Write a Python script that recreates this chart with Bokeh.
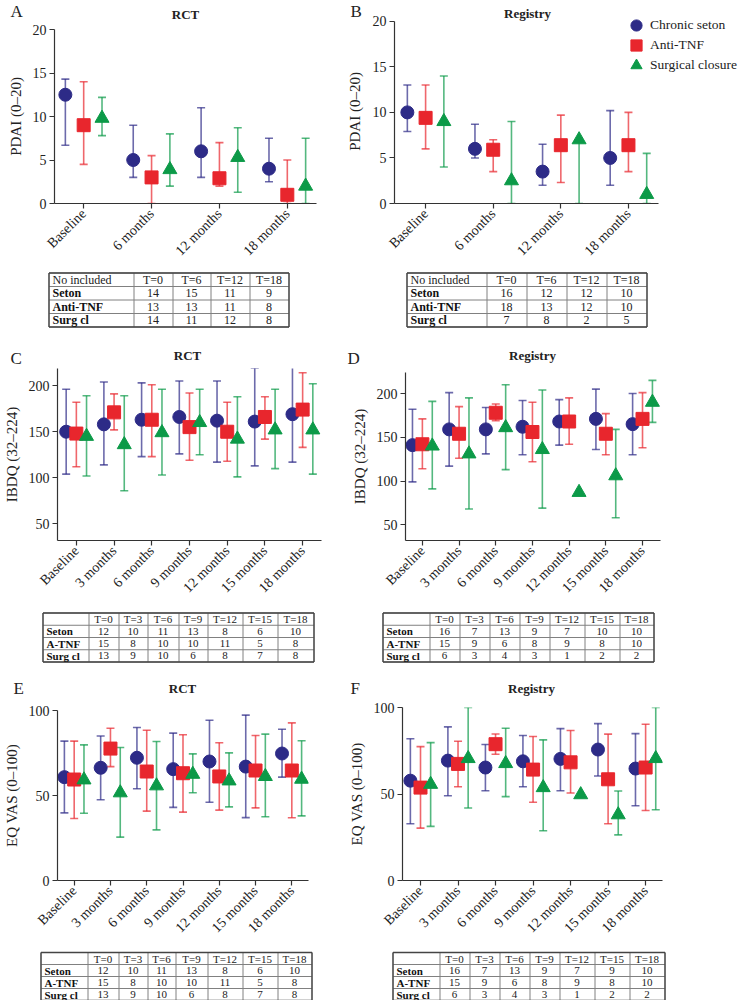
import math
from bokeh.plotting import figure
from bokeh.layouts import column, row
from bokeh.models import (Range1d, FixedTicker, Whisker, TeeHead, ColumnDataSource,
                          Legend, LegendItem, Label)
from bokeh.core.properties import value
from bokeh.embed import file_html
from bokeh.resources import INLINE

NaN = float("nan")

# ---------------- data ----------------
cats4 = ["Baseline", "6 months", "12 months", "18 months"]
cats7 = ["Baseline", "3 months", "6 months", "9 months", "12 months", "15 months", "18 months"]
series_names = ["Chronic seton", "Anti-TNF", "Surgical closure"]
panel_letters = ["A", "B", "C", "D", "E", "F"]
panel_titles = ["RCT", "Registry", "RCT", "Registry", "RCT", "Registry"]
ylabels = ["PDAI (0\u201320)", "IBDQ (32\u2013224)", "EQ VAS (0\u2013100)"]

# A: RCT, PDAI
A_seton = [12.5, 5.0, 6.0, 4.0]
A_seton_lo = [6.7, 3.0, 3.0, 2.5]
A_seton_hi = [14.3, 9.0, 11.0, 7.5]
A_anti = [9.0, 3.0, 2.9, 1.0]
A_anti_lo = [4.5, 0.0, 2.0, 0.0]
A_anti_hi = [14.0, 5.5, 7.0, 5.0]
A_surg = [9.8, 3.9, 5.3, 2.0]
A_surg_lo = [7.8, 2.0, 1.3, 0.0]
A_surg_hi = [12.2, 8.0, 8.7, 7.5]

# B: Registry, PDAI
B_seton = [10.0, 6.0, 3.5, 5.0]
B_seton_lo = [7.9, 5.0, 2.0, 2.0]
B_seton_hi = [13.0, 8.7, 6.5, 10.2]
B_anti = [9.4, 5.9, 6.4, 6.4]
B_anti_lo = [6.0, 3.5, 2.3, 3.5]
B_anti_hi = [13.0, 7.0, 9.7, 10.0]
B_surg = [9.0, 2.5, 7.0, 1.0]
B_surg_lo = [4.0, 0.0, 0.0, 0.0]
B_surg_hi = [14.0, 9.0, 7.0, 5.5]

# C: RCT, IBDQ
C_seton = [150, 158, 163, 166, 162, 161, 169]
C_seton_lo = [104, 114, 123, 126, 117, 113, 117]
C_seton_hi = [196, 204, 203, 205, 205, 219, 221]
C_anti = [148, 171, 163, 155, 150, 166, 174]
C_anti_lo = [112, 152, 123, 119, 118, 142, 133]
C_anti_hi = [182, 191, 201, 192, 182, 188, 214]
C_surg = [145, 136, 149, 160, 142, 152, 152]
C_surg_lo = [102, 86, 103, 125, 101, 110, 104]
C_surg_hi = [189, 189, 196, 196, 188, 196, 202]

# D: Registry, IBDQ
D_seton = [141, 159, 159, 162, 168, 171, 165]
D_seton_lo = [99, 117, 131, 130, 141, 136, 130]
D_seton_hi = [182, 201, 184, 192, 193, 205, 200]
D_anti = [142, 154, 178, 156, 168, 154, 171]
D_anti_lo = [114, 126, 169, 122, 142, 130, 138]
D_anti_hi = [171, 185, 188, 190, 195, 177, 201]
D_surg = [140, 131, 161, 136, 87, 106, 190]
D_surg_lo = [91, 68, 113, 69, NaN, 58, 167]
D_surg_hi = [191, 195, 210, 204, NaN, 159, 215]

# E: RCT, EQ VAS
E_seton = [60.8, 66.3, 72.2, 65.5, 70.0, 67.0, 74.7]
E_seton_lo = [39.8, 47.5, 54.0, 43.0, 46.0, 37.0, 60.8]
E_seton_hi = [82.0, 85.0, 90.0, 86.7, 94.3, 97.3, 89.0]
E_anti = [59.4, 77.6, 64.1, 63.1, 61.2, 64.7, 64.7]
E_anti_lo = [36.5, 67.0, 40.8, 40.2, 41.4, 42.7, 36.9]
E_anti_hi = [82.0, 89.6, 88.4, 85.7, 81.0, 85.3, 92.7]
E_surg = [59.2, 51.6, 55.7, 62.5, 58.6, 61.2, 59.6]
E_surg_lo = [39.6, 25.5, 29.8, 51.6, 43.3, 37.5, 38.0]
E_surg_hi = [79.8, 78.2, 81.8, 74.5, 75.1, 86.1, 82.2]

# F: Registry, EQ VAS
F_seton = [57.7, 69.3, 65.3, 68.9, 70.3, 75.7, 64.7]
F_seton_lo = [32.8, 49.0, 51.9, 54.2, 51.9, 60.4, 43.2]
F_seton_hi = [81.9, 88.8, 78.6, 83.8, 87.8, 90.7, 84.9]
F_anti = [53.7, 67.4, 78.8, 64.1, 68.3, 58.5, 65.3]
F_anti_lo = [30.3, 54.2, 73.0, 45.2, 50.6, 32.8, 40.5]
F_anti_hi = [77.4, 80.5, 84.7, 83.2, 86.7, 84.6, 90.3]
F_surg = [55.6, 70.5, 67.6, 53.7, 49.6, 38.0, 70.5]
F_surg_lo = [31.3, 41.9, 48.5, 28.8, NaN, 26.4, 40.9]
F_surg_hi = [79.7, 100.0, 88.0, 81.3, NaN, 51.7, 100.0]

# numbers included (tables)
hdr4 = ["T=0", "T=6", "T=12", "T=18"]
hdr7 = ["T=0", "T=3", "T=6", "T=9", "T=12", "T=15", "T=18"]
rows_pdai = ["Seton", "Anti-TNF", "Surg cl"]
rows_other = ["Seton", "A-TNF", "Surg cl"]
tA_seton = [14, 15, 11, 9]
tA_anti = [13, 13, 11, 8]
tA_surg = [14, 11, 12, 8]
tB_seton = [16, 12, 12, 10]
tB_anti = [18, 13, 12, 10]
tB_surg = [7, 8, 2, 5]
tC_seton = [12, 10, 11, 13, 8, 6, 10]
tC_anti = [15, 8, 10, 10, 11, 5, 8]
tC_surg = [13, 9, 10, 6, 8, 7, 8]
tD_seton = [16, 7, 13, 9, 7, 10, 10]
tD_anti = [15, 9, 6, 8, 9, 8, 10]
tD_surg = [6, 3, 4, 3, 1, 2, 2]
tE_seton = [12, 10, 11, 13, 8, 6, 10]
tE_anti = [15, 8, 10, 10, 11, 5, 8]
tE_surg = [13, 9, 10, 6, 8, 7, 8]
tF_seton = [16, 7, 13, 9, 7, 9, 10]
tF_anti = [15, 9, 6, 8, 9, 8, 10]
tF_surg = [6, 3, 4, 3, 1, 2, 2]

# ---------------- style ----------------
FONT = "Liberation Serif"
COLORS = ["#2d2b87", "#e8262d", "#0c9a48"]
MARKERS = ["circle", "square", "triangle"]
SIZES = [13, 13, 14]
OFFSETS = [-0.27, 0.0, 0.27]
TXT = "#222222"


def no_align(p):
    # keep every figure's frame exactly where its borders put it
    if "frame_align" in p.properties():
        p.frame_align = False
    return p


def panel(geo, cats, series, yr, yticks, ylabel, labels=(), legend_rows=()):
    # geo: page x/y of the figure, width, height, borders (l, r, t, b), x extents of the
    # axis around the first/last category, page x where the x axis ends, page y of yr[1]
    px, py, W, H, bl, br, bt, bb, xl, xr, axis_right, axis_top = geo
    n = len(cats)
    fl, ft = px + bl, py + bt
    fr, fb = px + W - br, py + H - bb
    x_axis_end = n - 1 + xr
    x_end = xl + (x_axis_end - xl) * (fr - fl) / (axis_right - fl)
    y_end = yr[0] + (yr[1] - yr[0]) * (fb - ft) / (fb - axis_top)
    p = figure(width=W, height=H, x_range=Range1d(xl, x_end), y_range=Range1d(yr[0], y_end),
               toolbar_location=None, output_backend="svg",
               min_border_left=bl, min_border_right=br, min_border_top=bt,
               min_border_bottom=bb)
    no_align(p)
    p.outline_line_color = None
    p.grid.grid_line_color = None
    p.background_fill_color = "white"
    p.border_fill_color = "white"

    p.xaxis.ticker = FixedTicker(ticks=list(range(n)))
    p.xaxis.major_label_overrides = {i: c for i, c in enumerate(cats)}
    p.xaxis.major_label_orientation = math.pi / 4
    p.xaxis.bounds = (xl, x_axis_end)
    p.yaxis.ticker = FixedTicker(ticks=yticks)
    p.yaxis.bounds = (yr[0], min(yr[1], y_end))
    if ylabel:
        p.yaxis.axis_label = ylabel
    for ax in (p.xaxis[0], p.yaxis[0]):
        ax.axis_line_color = "#333333"
        ax.axis_line_width = 1.2
        ax.major_tick_line_color = "#333333"
        ax.major_tick_line_width = 1.2
        ax.major_tick_out = 5
        ax.major_tick_in = 0
        ax.minor_tick_line_color = None
        ax.major_label_text_font = FONT
        ax.major_label_text_font_size = "14px"
        ax.major_label_text_color = TXT
        ax.major_label_standoff = 3
        ax.axis_label_text_font = FONT
        ax.axis_label_text_font_size = "15px"
        ax.axis_label_text_font_style = "normal"
        ax.axis_label_text_color = TXT
        ax.axis_label_standoff = 6

    renderers = []
    for k, (mean, lo, hi) in enumerate(series):
        xs = [i + OFFSETS[k] for i in range(n)]
        wx, wl, wh = [], [], []
        for x, l, h in zip(xs, lo, hi):
            if not (math.isnan(l) or math.isnan(h)):
                wx.append(x); wl.append(l); wh.append(h)
        wsrc = ColumnDataSource(dict(x=wx, lo=wl, hi=wh))
        c = COLORS[k]
        w = Whisker(source=wsrc, base="x", lower="lo", upper="hi", dimension="height",
                    line_color=c, line_width=1.6, line_alpha=0.7, level="underlay",
                    upper_head=TeeHead(size=8, line_color=c, line_width=1.6, line_alpha=0.7),
                    lower_head=TeeHead(size=8, line_color=c, line_width=1.6, line_alpha=0.7))
        p.add_layout(w)
        src = ColumnDataSource(dict(x=xs, y=mean))
        r = p.scatter("x", "y", source=src, marker=MARKERS[k], size=SIZES[k],
                      fill_color=c, line_color=c)
        renderers.append(r)

    # texts placed inside this figure's frame (page pixel positions)
    for (tx, ty, s, size, bold, angle) in labels:
        p.add_layout(Label(x=tx - fl, y=fb - ty, x_units="screen", y_units="screen", text=s,
                           text_font=FONT, text_font_size=size,
                           text_font_style="bold" if bold else "normal", angle=angle,
                           text_align="center", text_baseline="middle", text_color=TXT))

    # one legend per entry so that the entries can sit 20 px apart
    for k, cy in enumerate(legend_rows):
        leg = Legend(items=[LegendItem(label=series_names[k], renderers=[renderers[k]])],
                     location=(619 - fl, fb - (cy + 15)), glyph_width=28, glyph_height=30,
                     padding=0, margin=0, label_standoff=0,
                     label_text_font=FONT, label_text_font_size="13.5px",
                     label_text_color=TXT, border_line_color=None,
                     background_fill_alpha=0)
        p.add_layout(leg)
    return p


def text_fig(W, H, texts, tbl=None):
    """A plain pixel-space figure carrying panel letters/titles and a count table."""
    p = figure(width=W, height=H, x_range=Range1d(0, W), y_range=Range1d(H, 0),
               toolbar_location=None, output_backend="svg", min_border=0,
               x_axis_location=None, y_axis_location=None)
    no_align(p)
    p.outline_line_color = None
    p.grid.grid_line_color = None
    for (x, y, s, kind) in texts:
        if kind == "letter":
            p.text(x=[x], y=[y], text=[s], text_font=value(FONT), text_font_size="17px",
                   text_align="left", text_baseline="middle", text_color=TXT)
        else:
            p.text(x=[x], y=[y], text=[s], text_font=value(FONT), text_font_size="13px",
                   text_font_style="bold", text_align="center", text_baseline="middle",
                   text_color=TXT)
    if tbl is not None:
        xedges, top, rowh, header, corner, rownames, values, fs = tbl
        nr = 1 + len(rownames)
        ys = [top + k * rowh + 0.5 for k in range(nr + 1)]
        x0, x1 = xedges[0] + 0.5, xedges[-1] + 0.5
        p.segment(x0=[x0] * len(ys), x1=[x1] * len(ys), y0=ys, y1=ys,
                  line_color="#808080", line_width=1)
        xe = [x + 0.5 for x in xedges]
        p.segment(x0=xe, x1=xe, y0=[ys[0]] * len(xe), y1=[ys[-1]] * len(xe),
                  line_color="#808080", line_width=1)
        p.segment(x0=[x0, x0, x0, x1], x1=[x1, x1, x0, x1],
                  y0=[ys[0], ys[-1], ys[0], ys[0]], y1=[ys[0], ys[-1], ys[-1], ys[-1]],
                  line_color="#444444", line_width=1.3)
        cx = [(xedges[i] + xedges[i + 1]) / 2 for i in range(1, len(xedges) - 1)]
        cy = [(ys[k] + ys[k + 1]) / 2 for k in range(nr)]
        p.text(x=cx, y=[cy[0]] * len(cx), text=header, text_font=value(FONT),
               text_font_size=fs, text_align="center", text_baseline="middle",
               text_color=TXT)
        if corner:
            p.text(x=[xedges[0] + 4], y=[cy[0]], text=[corner], text_font=value(FONT),
                   text_font_size=fs, text_align="left", text_baseline="middle",
                   text_color=TXT)
        p.text(x=[xedges[0] + 4] * len(rownames), y=cy[1:], text=rownames,
               text_font=value(FONT), text_font_size=fs, text_font_style="bold",
               text_align="left", text_baseline="middle", text_color="#111111")
        for k, vals in enumerate(values):
            p.text(x=cx, y=[cy[k + 1]] * len(cx), text=[str(v) for v in vals],
                   text_font=value(FONT), text_font_size=fs, text_align="center",
                   text_baseline="middle", text_color=TXT)
    return p


# ---------------- layout (page pixels) ----------------
LW, RW = 340, 398

headA = text_fig(369, 21, [(10, 10.5, panel_letters[0], "letter"),
                           (185, 13.5, panel_titles[0], "title"),
                           (350, 10.5, panel_letters[1], "letter")])

pA = panel((0, 21, 369, 245, 54, 0, 8, 61, -0.43, 0.43, 316, 29), cats4,
           [(A_seton, A_seton_lo, A_seton_hi), (A_anti, A_anti_lo, A_anti_hi),
            (A_surg, A_surg_lo, A_surg_hi)],
           (0, 20), [0, 5, 10, 15, 20], ylabels[0],
           labels=[(354, 113, ylabels[0], "15px", False, math.pi / 2)])
pB = panel((369, 0, 369, 266, 22, 0, 0, 61, -0.46, 0.44, 657, 21), cats4,
           [(B_seton, B_seton_lo, B_seton_hi), (B_anti, B_anti_lo, B_anti_hi),
            (B_surg, B_surg_lo, B_surg_hi)],
           (0, 20), [0, 5, 10, 15, 20], None,
           labels=[(524, 15, panel_titles[1], "13px", True, 0)],
           legend_rows=[27, 47, 67])

t1L = text_fig(LW, 102, [(10, 92, panel_letters[2], "letter"), (187, 89, panel_titles[2], "title")],
               ([48, 133, 172, 210, 249, 288], 6, 13.5, hdr4, "No included", rows_pdai,
                [tA_seton, tA_anti, tA_surg], "12px"))
t1R = text_fig(RW, 102, [(7, 92, panel_letters[3], "letter"), (192, 89, panel_titles[3], "title")],
               ([66, 146, 186, 226, 266, 306], 6, 13.5, hdr4, "No included", rows_pdai,
                [tB_seton, tB_anti, tB_surg], "12px"))

pC = panel((0, 368, LW, 238, 54, 19, 0, 66, -0.5, 0.5, 321, 363), cats7,
           [(C_seton, C_seton_lo, C_seton_hi), (C_anti, C_anti_lo, C_anti_hi),
            (C_surg, C_surg_lo, C_surg_hi)],
           (32, 224), [50, 100, 150, 200], ylabels[1])
pD = panel((LW, 368, RW, 238, 65, 78, 4, 66, -0.46, 0.49, 660, 372), cats7,
           [(D_seton, D_seton_lo, D_seton_hi), (D_anti, D_anti_lo, D_anti_hi),
            (D_surg, D_surg_lo, D_surg_hi)],
           (32, 224), [50, 100, 150, 200], ylabels[1])

t2L = text_fig(LW, 92, [(13, 82, panel_letters[4], "letter"), (182, 82, panel_titles[4], "title")],
               ([42, 88, 118, 147, 178, 207, 242, 277, 313], 6, 12.25, hdr7, "", rows_other,
                [tC_seton, tC_anti, tC_surg], "11px"))
t2R = text_fig(RW, 92, [(10, 82, panel_letters[5], "letter"), (191, 82, panel_titles[5], "title")],
               ([42, 89, 119, 149, 179, 209, 244, 279, 313], 6, 12.25, hdr7, "", rows_other,
                [tD_seton, tD_anti, tD_surg], "11px"))

pE = panel((0, 698, LW, 252, 53, 32, 12, 70, -0.46, 0.46, 308, 710), cats7,
           [(E_seton, E_seton_lo, E_seton_hi), (E_anti, E_anti_lo, E_anti_hi),
            (E_surg, E_surg_lo, E_surg_hi)],
           (0, 100), [0, 50, 100], ylabels[2])
pF = panel((LW, 698, RW, 252, 62, 76, 9, 70, -0.48, 0.45, 662, 707), cats7,
           [(F_seton, F_seton_lo, F_seton_hi), (F_anti, F_anti_lo, F_anti_hi),
            (F_surg, F_surg_lo, F_surg_hi)],
           (0, 100), [0, 50, 100], ylabels[2])

t3L = text_fig(LW, 50, [], ([40, 87, 118, 147, 175, 207, 242, 277, 311], 1.5, 12, hdr7, "",
                            rows_other, [tE_seton, tE_anti, tE_surg], "11px"))
t3R = text_fig(RW, 50, [], ([52, 99, 129, 159, 189, 219, 254, 289, 324], 1.5, 12, hdr7, "",
                            rows_other, [tF_seton, tF_anti, tF_surg], "11px"))

layout = column(row(column(headA, pA), pB), row(t1L, t1R), row(pC, pD), row(t2L, t2R),
                row(pE, pF), row(t3L, t3R))

open("out.html", "w").write(file_html(layout, INLINE))
